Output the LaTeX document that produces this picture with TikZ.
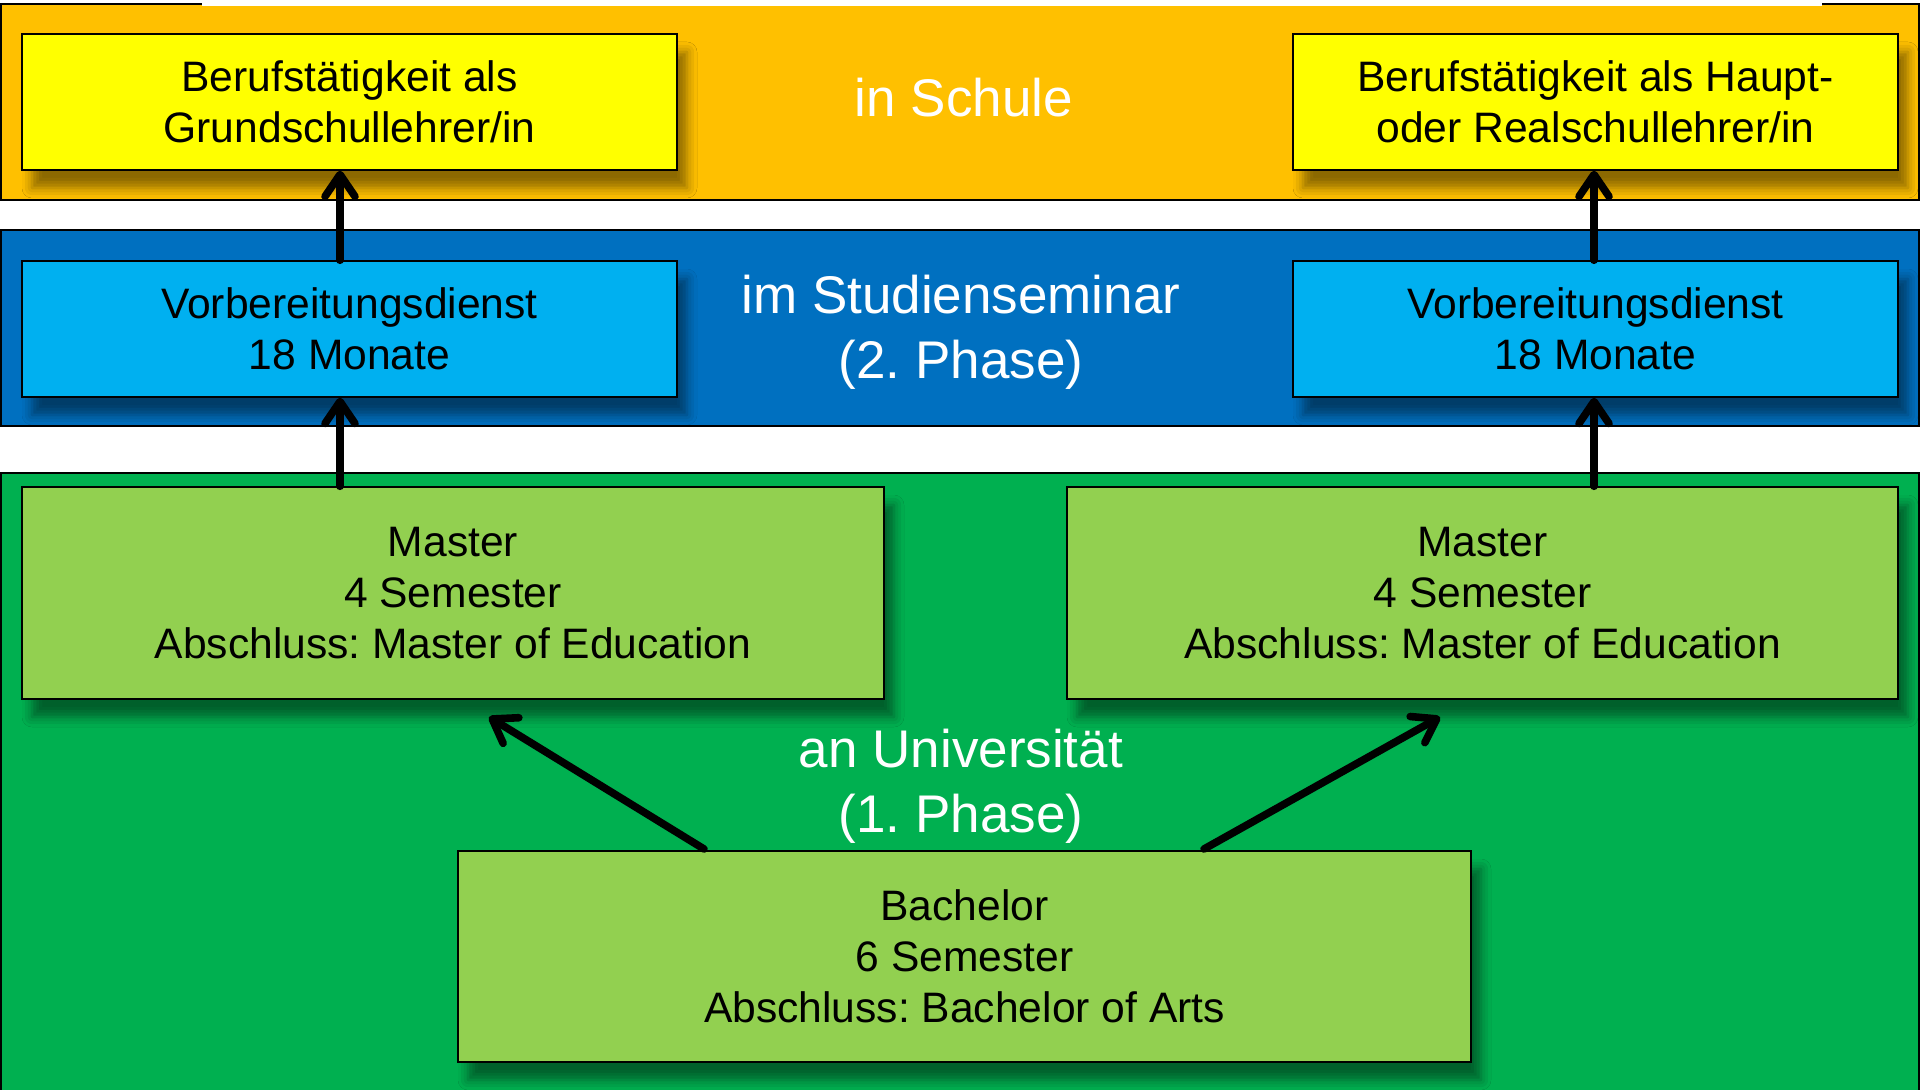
\documentclass[tikz,border=0pt]{standalone}
\usepackage{fontspec}
\setmainfont{Liberation Sans}
\usetikzlibrary{arrows.meta,shadows.blur}
\definecolor{orangeband}{HTML}{FFC000}
\definecolor{yellowbox}{HTML}{FFFF00}
\definecolor{blueband}{HTML}{0070C0}
\definecolor{bluebox}{HTML}{00B0F0}
\definecolor{greenband}{HTML}{00B050}
\definecolor{greenbox}{HTML}{92D050}
\frenchspacing
\tikzset{
  band/.style={draw=black, line width=0.8pt},
  box/.style={draw=black, line width=0.7pt, align=center, inner sep=0pt,
    font=\fontsize{21.3pt}{25.5pt}\selectfont,
    blur shadow={shadow xshift=5pt, shadow yshift=-9pt, shadow blur radius=5pt, shadow opacity=45}},
  headline/.style={text=white, align=center, font=\fontsize{26.5pt}{32.5pt}\selectfont},
  arr/.style={line width=3.8pt, line cap=round, -{Straight Barb[length=11pt,width=15pt,line cap=round,line join=round]}}
}
\begin{document}
\begin{tikzpicture}[x=0.5pt,y=-0.5pt]
\useasboundingbox (0,0) rectangle (1920,1090);
% bands
\fill[white] (0,0) rectangle (1920,1090);
\draw[band, fill=orangeband] (1,4) rectangle (1919,200);
\fill[white] (202,0) rectangle (1822,6);
\draw[band, fill=blueband] (1,230) rectangle (1919,426);
\draw[band, fill=greenband] (1,473) rectangle (1919,1092);
% headlines
\node[headline] (schule) at (964,98) {in Schule};
\node[headline] (seminar) at (961,332) {im Studienseminar\\(2.~Phase)};
\node[headline] (uni) at (961,786) {an Universität\\(1.~Phase)};
% boxes
\node[box, fill=yellowbox, minimum width=327.5pt, minimum height=68pt] (y1) at (349.5,102) {Berufstätigkeit als\\Grundschullehrer/in};
\node[box, fill=yellowbox, minimum width=302.5pt, minimum height=68pt] (y2) at (1595.5,102) {Berufstätigkeit als Haupt-\\oder Realschullehrer/in};
\node[box, fill=bluebox, minimum width=327.5pt, minimum height=68pt] (v1) at (349.5,329) {Vorbereitungsdienst\\18 Monate};
\node[box, fill=bluebox, minimum width=302.5pt, minimum height=68pt] (v2) at (1595.5,329) {Vorbereitungsdienst\\18 Monate};
\node[box, fill=greenbox, minimum width=431pt, minimum height=106pt] (m1) at (453,593) {Master\\4 Semester\\Abschluss: Master of Education};
\node[box, fill=greenbox, minimum width=415.5pt, minimum height=106pt] (m2) at (1482.5,593) {Master\\4 Semester\\Abschluss: Master of Education};
\node[box, fill=greenbox, minimum width=506.5pt, minimum height=105.5pt] (b) at (964.5,956.5) {Bachelor\\6 Semester\\Abschluss: Bachelor of Arts};
% connectors
\coordinate (ax1) at (340,0);
\coordinate (ax2) at (1594,0);
\draw[arr] (m1.north -| ax1) -- (v1.south -| ax1);
\draw[arr] (v1.north -| ax1) -- (y1.south -| ax1);
\draw[arr] (m2.north -| ax2) -- (v2.south -| ax2);
\draw[arr] (v2.north -| ax2) -- (y2.south -| ax2);
\coordinate (bl) at (704,849);
\coordinate (tl) at (489,717);
\coordinate (br) at (1204,849);
\coordinate (tr) at (1440,717);
\draw[arr] (bl) -- (tl);
\draw[arr] (br) -- (tr);
\end{tikzpicture}
\end{document}
